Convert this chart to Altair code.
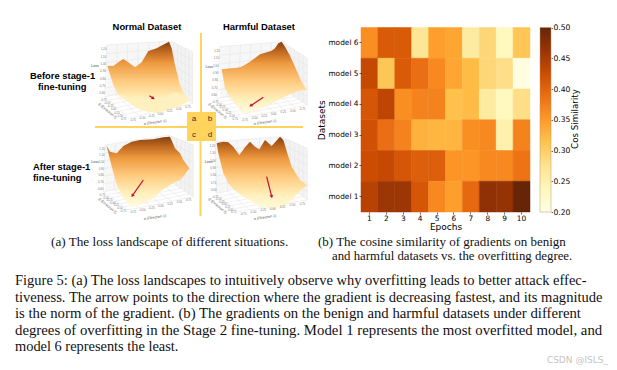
import math
import altair as alt
import pandas as pd

W, H = 601, 358
M = 8

# ---------- heatmap values ----------
epochs = [str(i) for i in range(1, 11)]
models = ["model 6", "model 5", "model 4", "model 3", "model 2", "model 1"]
model_6 = [.36, .41, .41, .27, .345, .34, .26, .29, .235, .31]
model_5 = [.43, .31, .41, .39, .365, .34, .32, .29, .28, .205]
model_4 = [.415, .435, .36, .37, .37, .315, .32, .26, .235, .28]
model_3 = [.42, .39, .37, .33, .325, .325, .36, .365, .25, .37]
model_2 = [.425, .43, .415, .405, .405, .355, .355, .365, .365, .385]
model_1 = [.44, .46, .46, .415, .365, .345, .395, .47, .465, .50]
rows = [model_6, model_5, model_4, model_3, model_2, model_1]
cbar_ticks = [0.20, 0.25, 0.30, 0.35, 0.40, 0.45, 0.50]

YLORBR = ["#ffffe5", "#fff7bc", "#fee391", "#fec44f", "#fe9929", "#ec7014", "#cc4c02", "#993404", "#662506"]
YLORBR_DOMAIN = [.2, .2375, .275, .3125, .35, .3875, .425, .4625, .5]

# ---------- landscapes (zoomed-crop coordinates: origin + value / 3) ----------
ORIGINS = {"a": (90, 35), "b": (200, 35), "c": (90, 130), "d": (200, 130)}
a_x = [52, 70, 85, 100, 118, 135, 155, 175, 200, 222, 237, 245, 255, 270, 285, 300]
a_top = [92, 93, 82, 72, 84, 97, 82, 48, 40, 28, 20, 40, 90, 150, 180, 198]
a_bot = [92, 150, 180, 192, 205, 215, 225, 232, 235, 228, 222, 222, 218, 212, 205, 198]
b_x = [65, 75, 90, 105, 120, 130, 150, 180, 215, 225, 235, 245, 255, 270, 285, 305, 320]
b_top = [103, 102, 100, 99, 97, 92, 80, 58, 47, 40, 25, 20, 35, 62, 95, 140, 165]
b_bot = [103, 160, 185, 205, 225, 238, 232, 222, 205, 200, 195, 190, 186, 178, 172, 166, 165]
c_x = [50, 60, 80, 100, 125, 150, 190, 220, 240, 255, 270, 280, 298]
c_top = [47, 65, 70, 48, 35, 30, 28, 22, 20, 55, 70, 90, 115]
c_bot = [47, 90, 165, 205, 232, 225, 205, 178, 165, 157, 150, 140, 115]
d_x = [50, 55, 70, 85, 100, 118, 135, 150, 165, 178, 195, 215, 240, 250, 262, 275, 300, 322]
d_top = [40, 38, 35, 37, 50, 75, 52, 35, 50, 58, 30, 48, 20, 30, 70, 110, 150, 165]
d_bot = [40, 70, 130, 160, 178, 192, 203, 210, 222, 228, 236, 240, 236, 230, 222, 210, 182, 165]
surfaces = {"a": (a_x, a_top, a_bot), "b": (b_x, b_top, b_bot), "c": (c_x, c_top, c_bot), "d": (d_x, d_top, d_bot)}
# pale folded foreground of panel a
fold_x = [85, 105, 125, 150, 170, 200, 225, 255, 285]
fold_top = [178, 183, 190, 182, 193, 187, 185, 172, 180]
fold_bot = [180, 193, 208, 224, 229, 234, 228, 218, 205]
# box corners: A back-left top, B back top, C right top, D right bottom, E front, F left bottom, G back bottom
boxes = {
    "a": [(50, 30), (240, 18), (308, 50), (308, 205), (115, 250), (45, 185), (240, 150)],
    "b": [(60, 35), (245, 20), (322, 70), (322, 210), (120, 250), (50, 190), (245, 160)],
    "c": [(45, 45), (235, 15), (310, 45), (310, 200), (115, 240), (40, 185), (235, 150)],
    "d": [(45, 35), (245, 20), (322, 55), (322, 210), (115, 245), (50, 190), (245, 150)],
}
arrows = {"a": (178, 182, 190, 190), "b": (190, 187, 152, 212), "c": (160, 150, 127, 197), "d": (200, 140, 215, 200)}
loss_pos = {"a": (15, 93), "b": (28, 97), "c": (15, 95), "d": (26, 97)}
front_ticks = ["-0.75", "-0.50", "-0.25", "0.00", "0.25", "0.50", "0.75"]
loss_ticks = ["1.20", "1.10", "1.00", "0.90", "0.80", "0.70", "0.60"]

# ---------- text ----------
panel_titles = [("Normal Dataset", 147, 27), ("Harmful Dataset", 259, 27)]
side_labels = [("Before stage-1", 30, 76), ("fine-tuning", 38, 87), ("After stage-1", 33, 167), ("fine-tuning", 33, 178)]
letters = [("a", 194, 119), ("b", 210, 119), ("c", 194, 135), ("d", 210, 135)]
caption_a = ("(a) The loss landscape of different situations.", 51, 242)
caption_b = ("(b) The cosine similarity of gradients on benign", 318, 242)
caption_c = ("and harmful datasets vs. the overfitting degree.", 332, 256)
figure_lines = [
    "Figure 5: (a) The loss landscapes to intuitively observe why overfitting leads to better attack effec-",
    "tiveness. The arrow points to the direction where the gradient is decreasing fastest, and its magnitude",
    "is the norm of the gradient.  (b) The gradients on the benign and harmful datasets under different",
    "degrees of overfitting in the Stage 2 fine-tuning. Model 1 represents the most overfitted model, and",
    "model 6 represents the least.",
]
figure_y = [281, 298, 314, 331, 347]
figure_size = [14.5, 14.55, 14.75, 14.8, 14.4]

# ---------- helpers ----------
PX = alt.Scale(domain=[M, M + W], range=[0, W])
PY = alt.Scale(domain=[M, M + H], range=[0, H])
X = lambda f="x": alt.X(f"{f}:Q", scale=PX, axis=None)
Y = lambda f="y": alt.Y(f"{f}:Q", scale=PY, axis=None)


def page(panel, zx, zy):
    ox, oy = ORIGINS[panel]
    return ox + zx / 3, oy + zy / 3


def rules(rows_, color, width):
    df = pd.DataFrame(rows_, columns=["x", "y", "x2", "y2"])
    return alt.Chart(df).mark_rule(color=color, strokeWidth=width).encode(x=X(), y=Y(), x2="x2:Q", y2="y2:Q")


def texts(rows_, **kw):
    df = pd.DataFrame(rows_, columns=["t", "x", "y"])
    return alt.Chart(df).mark_text(**kw).encode(x=X(), y=Y(), text="t:N")


def area(xs, tops, bots, fill):
    df = pd.DataFrame({"x": xs, "y": tops, "y2": bots})
    return alt.Chart(df).mark_area(color=fill, line=False).encode(x=X(), y=Y(), y2="y2:Q")


def lerp(P, Q, t):
    return P[0] + (Q[0] - P[0]) * t, P[1] + (Q[1] - P[1]) * t


SURF = alt.Gradient(
    gradient="linear", x1=0, y1=0, x2=0, y2=1,
    stops=[
        alt.GradientStop(offset=0, color="#84410f"),
        alt.GradientStop(offset=0.13, color="#bd661f"),
        alt.GradientStop(offset=0.3, color="#ee9a40"),
        alt.GradientStop(offset=0.55, color="#ffcb7f"),
        alt.GradientStop(offset=0.8, color="#fff0bd"),
        alt.GradientStop(offset=1, color="#fffbe3"),
    ],
)

layers = []

# landscapes
for p, corners in boxes.items():
    A, B, C, D, E, F, G = [page(p, *c) for c in corners]
    layers.append(area([A[0], B[0]], [A[1], B[1]], [F[1], G[1]], "#f7f7f7"))
    layers.append(area([B[0], C[0]], [B[1], C[1]], [G[1], D[1]], "#f3f3f3"))
    segs = [(*A, *F), (*B, *G), (*C, *D), (*A, *B), (*B, *C), (*F, *G), (*G, *D), (*F, *E), (*E, *D)]
    for k in (1, 2, 3, 4, 5):
        t = k / 6
        segs.append((*lerp(A, B, t), *lerp(F, G, t)))
        segs.append((*lerp(A, F, t), *lerp(B, G, t)))
        segs.append((*lerp(B, C, t), *lerp(G, D, t)))
        segs.append((*lerp(B, G, t), *lerp(C, D, t)))
        segs.append((*lerp(F, G, t), *lerp(E, D, t)))
        segs.append((*lerp(F, E, t), *lerp(G, D, t)))
    layers.append(rules(segs, "#e2e2e2", 0.5))
    sx, st, sb = surfaces[p]
    layers.append(area([page(p, v, 0)[0] for v in sx], [page(p, 0, v)[1] for v in st], [page(p, 0, v)[1] for v in sb], SURF))
    if p == "a":
        layers.append(area([page(p, v, 0)[0] for v in fold_x], [page(p, 0, v)[1] for v in fold_top], [page(p, 0, v)[1] for v in fold_bot], "#fff0bf"))
    # tiny axis text
    tick_rows = []
    for i, s in enumerate(front_ticks):
        t = (i + 0.5) / 7
        px_, py_ = lerp(E, D, t)
        tick_rows.append((s, px_, py_ + 2.2))
        px_, py_ = lerp(F, E, t)
        tick_rows.append((s, px_ - 3, py_ + 1.5))
    for i, s in enumerate(loss_ticks):
        t = (i + 0.5) / 7
        px_, py_ = lerp(A, F, t)
        tick_rows.append((s, px_ - 2.8, py_))
    layers.append(texts(tick_rows, fontSize=2.8, color="#777777", font="Liberation Sans"))
    fx, fy = page(p, 195, 262)
    layers.append(texts([("α (Direction 1)", fx, fy)], fontSize=3.6, color="#555555", angle=352, font="Liberation Sans"))
    lx, ly = page(p, 62, 228)
    layers.append(texts([("β (Direction 2)", lx - 3, ly)], fontSize=3.6, color="#555555", angle=40, font="Liberation Sans"))
    sx0, sy0 = page(p, *loss_pos[p])
    layers.append(texts([("Loss", sx0, sy0)], fontSize=3.6, color="#444444", font="Liberation Sans"))
    # arrow
    x0, y0, x1, y1 = arrows[p]
    px0, py0 = page(p, x0, y0)
    px1, py1 = page(p, x1, y1)
    layers.append(rules([(px0, py0, px1, py1)], "#c8102e", 1.2))
    ang = (math.degrees(math.atan2(px1 - px0, -(py1 - py0)))) % 360
    head = pd.DataFrame({"x": [px1], "y": [py1], "a": [ang]})
    layers.append(
        alt.Chart(head).mark_point(shape="triangle-up", filled=True, color="#c8102e", opacity=1, size=14)
        .encode(x=X(), y=Y(), angle=alt.Angle("a:Q", scale=None))
    )

# divider cross + letter box
layers.append(rules([(201, 33, 201, 112), (200.5, 141, 200.5, 216), (95, 127, 303, 127)], "#ffd35c", 2))
box_df = pd.DataFrame({"x": [187], "x2": [216], "y": [112], "y2": [141]})
layers.append(alt.Chart(box_df).mark_rect(color="#ffd35c").encode(x=X(), x2="x2:Q", y=Y(), y2="y2:Q"))
layers.append(texts(letters, fontSize=8, color="#333333", font="Liberation Sans"))

# left labels
layers.append(texts(panel_titles, fontSize=9.4, fontWeight="bold", color="black", font="Liberation Sans"))
layers.append(texts(side_labels, fontSize=9.4, fontWeight="bold", color="black", align="left", font="Liberation Sans"))

# heatmap
heat_df = pd.DataFrame(
    [{"epoch": e, "model": m, "v": v} for m, r in zip(models, rows) for e, v in zip(epochs, r)]
)
HX0, HX1, HY0, HY1 = 361 - M, 530 - M, 27.5 - M, 212 - M
heat_scale = alt.Scale(domain=YLORBR_DOMAIN, range=YLORBR)
heat = alt.Chart(heat_df).mark_rect(strokeWidth=0.5).encode(
    x=alt.X(
        "epoch:N", sort=epochs, scale=alt.Scale(range=[HX0, HX1], paddingInner=0, paddingOuter=0),
        axis=alt.Axis(title="Epochs", labelAngle=0, orient="bottom", offset=HY1 - H, labelFont="DejaVu Sans", labelFontSize=7.4,
                      titleFont="DejaVu Sans", titleFontSize=9, titleFontWeight="normal", titleColor="black",
                      labelColor="black", tickSize=2, tickWidth=0.6, tickColor="black", domain=False,
                      labelPadding=0.5, titlePadding=0.5, grid=False),
    ),
    y=alt.Y(
        "model:N", sort=models, scale=alt.Scale(range=[HY0, HY1], paddingInner=0, paddingOuter=0),
        axis=alt.Axis(title="Datasets", orient="left", offset=-HX0, labelFont="DejaVu Sans", labelFontSize=7.4,
                      titleFont="DejaVu Sans", titleFontSize=9, titleFontWeight="normal", titleColor="black",
                      labelColor="black", tickSize=2, tickWidth=0.6, tickColor="black", domain=False,
                      labelPadding=1, titlePadding=1, grid=False),
    ),
    color=alt.Color("v:Q", scale=heat_scale, legend=None),
    stroke=alt.Stroke("v:Q", scale=heat_scale, legend=None),
)
layers.append(heat)

# colour bar on its own value axis
CBAR = alt.Gradient(
    gradient="linear", x1=0, y1=1, x2=0, y2=0,
    stops=[alt.GradientStop(offset=i / 8, color=c) for i, c in enumerate(YLORBR)],
)
cbar_df = pd.DataFrame({"lo": [0.2], "hi": [0.5]})
cbar = alt.Chart(cbar_df).mark_rect(color=CBAR, stroke="#b09a70", strokeWidth=0.5).encode(
    x=alt.value(540 - M), x2=alt.value(551 - M),
    y=alt.Y(
        "lo:Q", scale=alt.Scale(domain=[0.2, 0.5], range=[HY1, HY0]),
        axis=alt.Axis(title=None, orient="right", offset=551 - M - W, values=cbar_ticks, format=".2f", labelFont="DejaVu Sans",
                      labelFontSize=7.6, labelColor="black", tickSize=1.5, tickWidth=0.6, tickColor="black",
                      domain=False, grid=False, labelPadding=0.5, labelFlush=False),
    ),
    y2="hi:Q",
)
layers.append(cbar)
layers.append(texts([("Cos Similarity", 575, 119)], fontSize=8.7, color="black", angle=270, font="DejaVu Sans"))

# captions
layers.append(texts([caption_a], fontSize=13.2, color="#111111", align="left", font="Liberation Serif"))
layers.append(texts([caption_b], fontSize=13, color="#111111", align="left", font="Liberation Serif"))
layers.append(texts([caption_c], fontSize=12.8, color="#111111", align="left", font="Liberation Serif"))
for line, y, s in zip(figure_lines, figure_y, figure_size):
    layers.append(texts([(line, 15, y)], fontSize=s, color="#111111", align="left", font="Liberation Serif"))
layers.append(texts([("CSDN @ISLS_", 608, 360)], fontSize=9, color="#c4c4c4", align="right", font="DejaVu Sans"))

chart = (
    alt.layer(*layers)
    .resolve_scale(x="independent", y="independent", color="independent", stroke="independent")
    .properties(width=W, height=H, padding=0, autosize=alt.AutoSizeParams(type="none"), background="white")
    .configure_view(stroke=None)
)
chart.save("out.html", embed_options={"renderer": "svg", "actions": False})
